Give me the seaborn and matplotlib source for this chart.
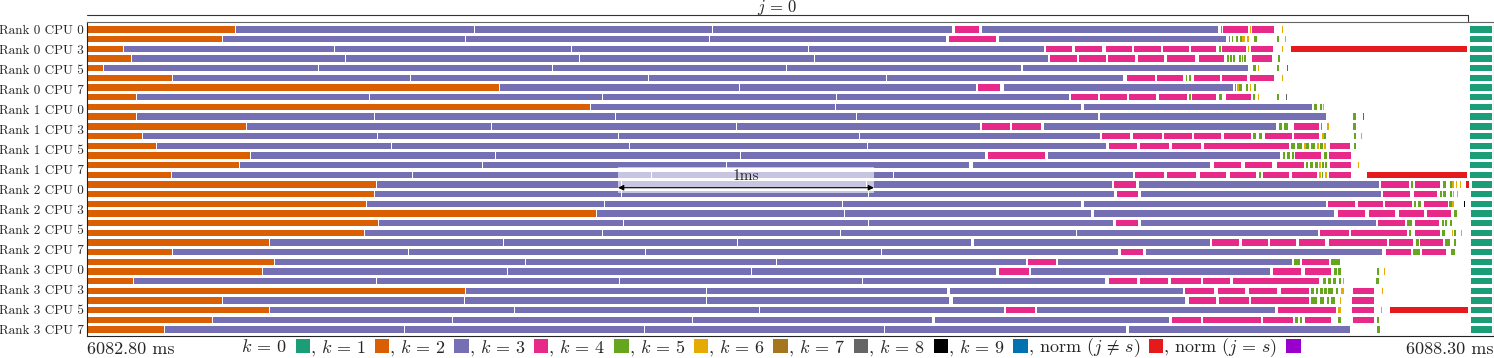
import matplotlib
matplotlib.use("Agg")
import numpy as np
import matplotlib.pyplot as plt
from matplotlib.patches import Patch, Rectangle
import seaborn as sns

# ==============================
# DATA  (times in microseconds after 6082.80 ms, k = category)
#   k 0..9 -> iteration k, 10 -> norm (j != s), 11 -> norm (j = s)
# ==============================
t0_label = "6082.80 ms"
t1_label = "6088.30 ms"
t_span_us = 5500
j0_end_us = 5398
scale_start_us = 2076
scale_len_us = 1000

ranks = [0, 1, 2, 3]
cpu_labels = [0, 3, 5, 7]

row_00 = [(0, 582, 1), (582, 1517, 2), (1517, 2447, 2), (2447, 3385, 2), (3393, 3491, 3), (3499, 4425, 2), (4433, 4437, 4), (4441, 4542, 3), (4546, 4550, 5), (4554, 4644, 3), (4671, 4675, 5), (5406, 5496, 0)]
row_01 = [(0, 532, 1), (532, 1482, 2), (1482, 2435, 2), (2435, 3362, 2), (3370, 3557, 3), (3565, 4456, 2), (4464, 4468, 4), (4476, 4480, 4), (4491, 4499, 4), (4507, 4515, 4), (4515, 4531, 5), (4534, 4542, 5), (4562, 4574, 4), (4652, 4660, 4), (4683, 4687, 5), (5406, 5496, 0)]
row_02 = [(0, 145, 1), (145, 969, 2), (969, 1896, 2), (1896, 2822, 2), (2822, 3745, 2), (3749, 3854, 3), (3862, 3972, 3), (3983, 4089, 3), (4093, 4202, 3), (4206, 4312, 3), (4316, 4417, 3), (4425, 4433, 4), (4437, 4534, 3), (4538, 4542, 5), (4550, 4640, 3), (4671, 4675, 5), (4706, 5398, 10), (5406, 5496, 0)]
row_03 = [(0, 176, 1), (176, 1012, 2), (1012, 1927, 2), (1927, 2846, 2), (2846, 3760, 2), (3764, 3874, 3), (3878, 3987, 3), (3991, 4101, 3), (4108, 4214, 3), (4222, 4335, 3), (4347, 4448, 3), (4456, 4464, 4), (4468, 4476, 4), (4480, 4487, 4), (4503, 4511, 4), (4515, 4519, 4), (4523, 4531, 4), (4554, 4636, 3), (4656, 4664, 4), (5406, 5496, 0)]
row_04 = [(0, 66, 1), (66, 907, 2), (907, 1822, 2), (1822, 2736, 2), (2736, 3655, 2), (3659, 4542, 2), (4558, 4570, 4), (4577, 4581, 5), (4652, 4660, 4), (4691, 4695, 7), (5406, 5496, 0)]
row_05 = [(0, 336, 1), (336, 1267, 2), (1267, 2197, 2), (2197, 3127, 2), (3127, 4054, 2), (4065, 4179, 3), (4183, 4288, 3), (4296, 4300, 4), (4308, 4316, 4), (4327, 4433, 3), (4437, 4538, 3), (4546, 4644, 3), (4671, 4675, 5), (5406, 5496, 0)]
row_06 = [(0, 1614, 1), (1614, 2553, 2), (2553, 3479, 2), (3483, 3573, 3), (3585, 4484, 2), (4487, 4491, 4), (4495, 4503, 5), (4503, 4519, 4), (4531, 4538, 4), (4546, 4550, 5), (4562, 4570, 4), (5406, 5496, 0)]
row_07 = [(0, 195, 1), (195, 1106, 2), (1106, 2017, 2), (2017, 2932, 2), (2932, 3843, 2), (3847, 3956, 3), (3960, 4069, 3), (4073, 4183, 3), (4190, 4304, 3), (4308, 4316, 4), (4319, 4417, 3), (4425, 4441, 4), (4452, 4554, 3), (4558, 4566, 4), (4577, 4581, 5), (4652, 4660, 4), (4687, 4691, 7), (5406, 5496, 0)]
row_08 = [(0, 1970, 1), (1970, 2928, 2), (2928, 3890, 2), (3897, 4792, 2), (4796, 4812, 4), (4820, 4828, 4), (4832, 4836, 5), (5406, 5496, 0)]
row_09 = [(0, 195, 1), (195, 1126, 2), (1126, 2068, 2), (2068, 3010, 2), (3010, 3956, 2), (3960, 4847, 2), (4949, 4961, 4), (4988, 4992, 7), (5406, 5496, 0)]
row_10 = [(0, 625, 1), (625, 1583, 2), (1583, 2541, 2), (2541, 3495, 2), (3499, 3612, 3), (3616, 3733, 3), (3741, 4652, 2), (4660, 4671, 4), (4679, 4699, 4), (4718, 4820, 3), (4824, 4828, 4), (4847, 4855, 5), (4949, 4961, 4), (5406, 5496, 0)]
row_11 = [(0, 219, 1), (219, 1138, 2), (1138, 2080, 2), (2080, 3022, 2), (3022, 3964, 2), (3968, 4081, 3), (4089, 4206, 3), (4210, 4323, 3), (4327, 4437, 3), (4445, 4554, 3), (4558, 4574, 4), (4581, 4593, 4), (4605, 4714, 3), (4718, 4820, 3), (4828, 4836, 5), (4836, 4843, 4), (4953, 4961, 4), (4980, 4984, 5), (5406, 5496, 0)]
row_12 = [(0, 274, 1), (274, 1192, 2), (1192, 2123, 2), (2123, 3053, 2), (3053, 3987, 2), (3995, 4108, 3), (4116, 4233, 3), (4241, 4359, 3), (4366, 4703, 3), (4706, 4726, 4), (4730, 4753, 4), (4757, 4765, 5), (4765, 4777, 4), (4785, 4804, 4), (4808, 4816, 5), (4820, 4832, 4), (4836, 4843, 5), (4859, 4941, 3), (4953, 4961, 4), (5406, 5496, 0)]
row_13 = [(0, 641, 1), (641, 1599, 2), (1599, 2557, 2), (2557, 3514, 2), (3522, 3749, 3), (3757, 4667, 2), (4675, 4683, 4), (4691, 4703, 4), (4710, 4718, 4), (4722, 4828, 3), (4836, 4847, 4), (4855, 4945, 3), (5406, 5496, 0)]
row_14 = [(0, 598, 1), (598, 1548, 2), (1548, 2502, 2), (2502, 3452, 2), (3463, 4394, 2), (4405, 4515, 3), (4527, 4636, 3), (4652, 4761, 3), (4765, 4773, 4), (4781, 4792, 4), (4800, 4812, 4), (4816, 4824, 5), (4828, 4836, 4), (4839, 4847, 4), (4859, 4945, 3), (4968, 4972, 5), (5406, 5496, 0)]
row_15 = [(0, 332, 1), (332, 1274, 2), (1274, 2209, 2), (2209, 3155, 2), (3155, 4093, 2), (4097, 4214, 3), (4222, 4339, 3), (4351, 4456, 3), (4468, 4574, 3), (4581, 4589, 4), (4597, 4703, 3), (4710, 4812, 3), (4816, 4824, 5), (4828, 4832, 4), (4839, 4847, 5), (4855, 4945, 3), (5004, 5398, 10), (5406, 5496, 0)]
row_16 = [(0, 1134, 1), (1134, 2091, 2), (2091, 3049, 2), (3049, 4011, 2), (4015, 4105, 3), (4112, 5054, 2), (5058, 5172, 3), (5176, 5184, 4), (5191, 5293, 3), (5301, 5312, 4), (5328, 5336, 4), (5336, 5344, 5), (5351, 5355, 5), (5367, 5371, 5), (5390, 5402, 10), (5414, 5496, 0)]
row_17 = [(0, 1126, 1), (1126, 2091, 2), (2091, 3057, 2), (3057, 4019, 2), (4026, 4112, 3), (4120, 5062, 2), (5066, 5176, 3), (5187, 5281, 3), (5289, 5297, 4), (5301, 5312, 4), (5328, 5336, 4), (5340, 5344, 5), (5355, 5359, 5), (5410, 5496, 0)]
row_18 = [(0, 1095, 1), (1095, 2025, 2), (2025, 2955, 2), (2955, 3890, 2), (3897, 4847, 2), (4851, 4961, 3), (4968, 5070, 3), (5074, 5183, 3), (5187, 5195, 4), (5203, 5219, 4), (5226, 5324, 3), (5324, 5336, 4), (5336, 5344, 5), (5383, 5387, 8), (5410, 5496, 0)]
row_19 = [(0, 1994, 1), (1994, 2963, 2), (2963, 3929, 2), (3936, 4878, 2), (4890, 5000, 3), (5011, 5117, 3), (5129, 5230, 3), (5238, 5336, 3), (5344, 5355, 4), (5410, 5496, 0)]
row_20 = [(0, 1141, 1), (1141, 2099, 2), (2099, 3057, 2), (3057, 4015, 2), (4022, 4112, 3), (4120, 5043, 2), (5047, 5156, 3), (5160, 5183, 4), (5191, 5289, 3), (5297, 5305, 4), (5309, 5316, 4), (5328, 5336, 4), (5410, 5496, 0)]
row_21 = [(0, 1087, 1), (1087, 2017, 2), (2017, 2947, 2), (2947, 3870, 2), (3870, 4816, 2), (4820, 4937, 3), (4941, 5164, 3), (5168, 5176, 4), (5191, 5293, 3), (5297, 5312, 4), (5336, 5340, 5), (5344, 5351, 4), (5371, 5375, 5), (5410, 5496, 0)]
row_22 = [(0, 715, 1), (715, 1630, 2), (1630, 2545, 2), (2545, 3460, 2), (3467, 4394, 2), (4398, 4507, 3), (4515, 4620, 3), (4624, 4730, 3), (4738, 4843, 3), (4855, 5086, 3), (5090, 5187, 3), (5195, 5207, 4), (5211, 5305, 3), (5309, 5332, 4), (5344, 5351, 4), (5410, 5496, 0)]
row_23 = [(0, 336, 1), (336, 1259, 2), (1259, 2185, 2), (2185, 3108, 2), (3108, 4034, 2), (4042, 4132, 3), (4140, 5066, 2), (5078, 5179, 3), (5183, 5215, 4), (5219, 5316, 3), (5332, 5351, 4), (5410, 5496, 0)]
row_24 = [(0, 735, 1), (735, 1716, 2), (1716, 2697, 2), (2697, 3674, 2), (3678, 3792, 3), (3796, 4714, 2), (4718, 4746, 4), (4749, 4859, 3), (4863, 4902, 4), (5410, 5496, 0)]
row_25 = [(0, 688, 1), (688, 1646, 2), (1646, 2600, 2), (2600, 3557, 2), (3565, 3686, 3), (3690, 4628, 2), (4636, 4749, 3), (4761, 4867, 3), (4875, 4886, 4), (4890, 4902, 4), (5043, 5051, 4), (5070, 5074, 5), (5410, 5496, 0)]
row_26 = [(0, 184, 1), (184, 1134, 2), (1134, 2084, 2), (2084, 3033, 2), (3033, 3983, 2), (3995, 4108, 3), (4116, 4230, 3), (4237, 4359, 3), (4362, 4472, 3), (4480, 4820, 3), (4832, 4843, 4), (4851, 4867, 4), (4871, 4882, 4), (4894, 4902, 4), (4910, 4914, 5), (5039, 5051, 4), (5410, 5496, 0)]
row_27 = [(0, 1482, 1), (1482, 2424, 2), (2424, 3366, 2), (3374, 4288, 2), (4292, 4409, 3), (4421, 4531, 3), (4542, 4656, 3), (4667, 4781, 3), (4785, 4796, 4), (4804, 4812, 4), (4820, 4832, 4), (4836, 4847, 4), (4851, 4875, 4), (4882, 4890, 4), (4902, 4914, 5), (4949, 5035, 3), (5062, 5066, 5), (5410, 5496, 0)]
row_28 = [(0, 532, 1), (532, 1478, 2), (1478, 2424, 2), (2424, 3374, 2), (3385, 4296, 2), (4308, 4417, 3), (4425, 4546, 3), (4550, 4781, 3), (4785, 4812, 4), (4820, 4839, 4), (4847, 4855, 4), (4863, 4882, 4), (4898, 4902, 5), (4945, 5035, 3), (5410, 5496, 0)]
row_29 = [(0, 715, 1), (715, 1673, 2), (1673, 2631, 2), (2631, 3588, 2), (3592, 3710, 3), (3714, 4648, 2), (4656, 4886, 3), (4890, 4906, 5), (4945, 5035, 3), (5058, 5062, 5), (5094, 5402, 10), (5410, 5496, 0)]
row_30 = [(0, 493, 1), (493, 1431, 2), (1431, 2369, 2), (2369, 3307, 2), (3315, 4233, 2), (4241, 4359, 3), (4362, 4593, 3), (4597, 4718, 3), (4722, 4734, 4), (4742, 4749, 4), (4761, 4867, 3), (4890, 4902, 4), (4949, 5035, 3), (5043, 5051, 4), (5410, 5496, 0)]
row_31 = [(0, 305, 1), (305, 1243, 2), (1243, 2181, 2), (2181, 3119, 2), (3119, 4065, 2), (4073, 4941, 2), (5043, 5054, 4), (5410, 5496, 0)]

rows = [row_00, row_01, row_02, row_03, row_04, row_05, row_06, row_07,
        row_08, row_09, row_10, row_11, row_12, row_13, row_14, row_15,
        row_16, row_17, row_18, row_19, row_20, row_21, row_22, row_23,
        row_24, row_25, row_26, row_27, row_28, row_29, row_30, row_31]

legend_labels = [r"$k\,=\,0$", r", $k\,=\,1$", r", $k\,=\,2$", r", $k\,=\,3$", r", $k\,=\,4$",
                 r", $k\,=\,5$", r", $k\,=\,6$", r", $k\,=\,7$", r", $k\,=\,8$", r", $k\,=\,9$",
                 r", norm $(j\,\neq\,s)$", r", norm $(j\,=\,s)$"]

# ==============================
# STYLE
# ==============================
sns.set_style("white")
plt.rcParams["font.family"] = ["cmr10", "DejaVu Sans"]
plt.rcParams["mathtext.fontset"] = "cm"
plt.rcParams["axes.unicode_minus"] = False

colors = list(sns.color_palette("Dark2", 8)) + ["#000000", "#0072b2", "#e41a1c", "#9900cc"]

W, H = 1494, 358
fig = plt.figure(figsize=(W / 100, H / 100), dpi=100)
ax = fig.add_axes([87 / W, (H - 336) / H, (W - 87) / W, (336 - 22) / H])

# ==============================
# BARS
# ==============================
gap = 4
for cat in range(len(colors)):
    ys, lefts, widths = [], [], []
    for i, row in enumerate(rows):
        for s, e, k in row:
            if k != cat:
                continue
            w = e - s
            if w > 3 * gap:
                w -= gap
            ys.append(i)
            lefts.append(s)
            widths.append(w)
    if ys:
        ax.barh(ys, widths, left=lefts, height=0.66, color=colors[cat], linewidth=0)

ax.set_xlim(0, t_span_us)
ax.set_ylim(len(rows) - 0.34, -0.78)

# labels are spread evenly from the first to the last row
ax.set_yticks(np.linspace(0, len(rows) - 1, len(ranks) * len(cpu_labels)))
ax.set_yticklabels([f"Rank {r} CPU {c}" for r in ranks for c in cpu_labels], fontsize=9.5)
ax.tick_params(axis="y", length=0, pad=2)
ax.set_xticks([])
for sp in ax.spines.values():
    sp.set_color("#222222")
    sp.set_linewidth(0.8)
ax.spines["top"].set_color("#666666")

# 1 ms scale bar
ax.add_patch(Rectangle((scale_start_us, 14.23), scale_len_us, 2.67,
                       facecolor="white", alpha=0.6, linewidth=0, zorder=3))
ax.annotate("", xy=(scale_start_us, 16.34), xytext=(scale_start_us + scale_len_us, 16.34),
            arrowprops=dict(arrowstyle="<|-|>", color="black", lw=0.8,
                            mutation_scale=8, shrinkA=0, shrinkB=0), zorder=4)
ax.text(scale_start_us + scale_len_us / 2, 15.1, "1ms", ha="center", va="center",
        fontsize=11, zorder=4)

# j = 0 bracket
ax.plot([0, j0_end_us, j0_end_us], [-1.5, -1.5, -0.88], color="#333333", lw=0.8,
        clip_on=False)
ax.text(j0_end_us / 2, -2.25, r"$j\,=\,0$", ha="center", va="center", fontsize=12)

# ==============================
# BOTTOM LABELS / LEGEND
# ==============================
fig.text(87 / W, 1 - 349 / H, t0_label, ha="left", va="center", fontsize=13)
fig.text(1493 / W, 1 - 349 / H, t1_label, ha="right", va="center", fontsize=13)

handles = [Patch(facecolor=c, edgecolor="none") for c in colors]
fig.legend(handles, legend_labels, loc="center", bbox_to_anchor=(771 / W, 1 - 348 / H),
           ncol=len(handles), frameon=False, markerfirst=False, fontsize=13,
           handlelength=0.8, handleheight=0.8, handletextpad=0.5, columnspacing=0.0,
           borderpad=0, borderaxespad=0)

fig.savefig("out.png", dpi=100)
